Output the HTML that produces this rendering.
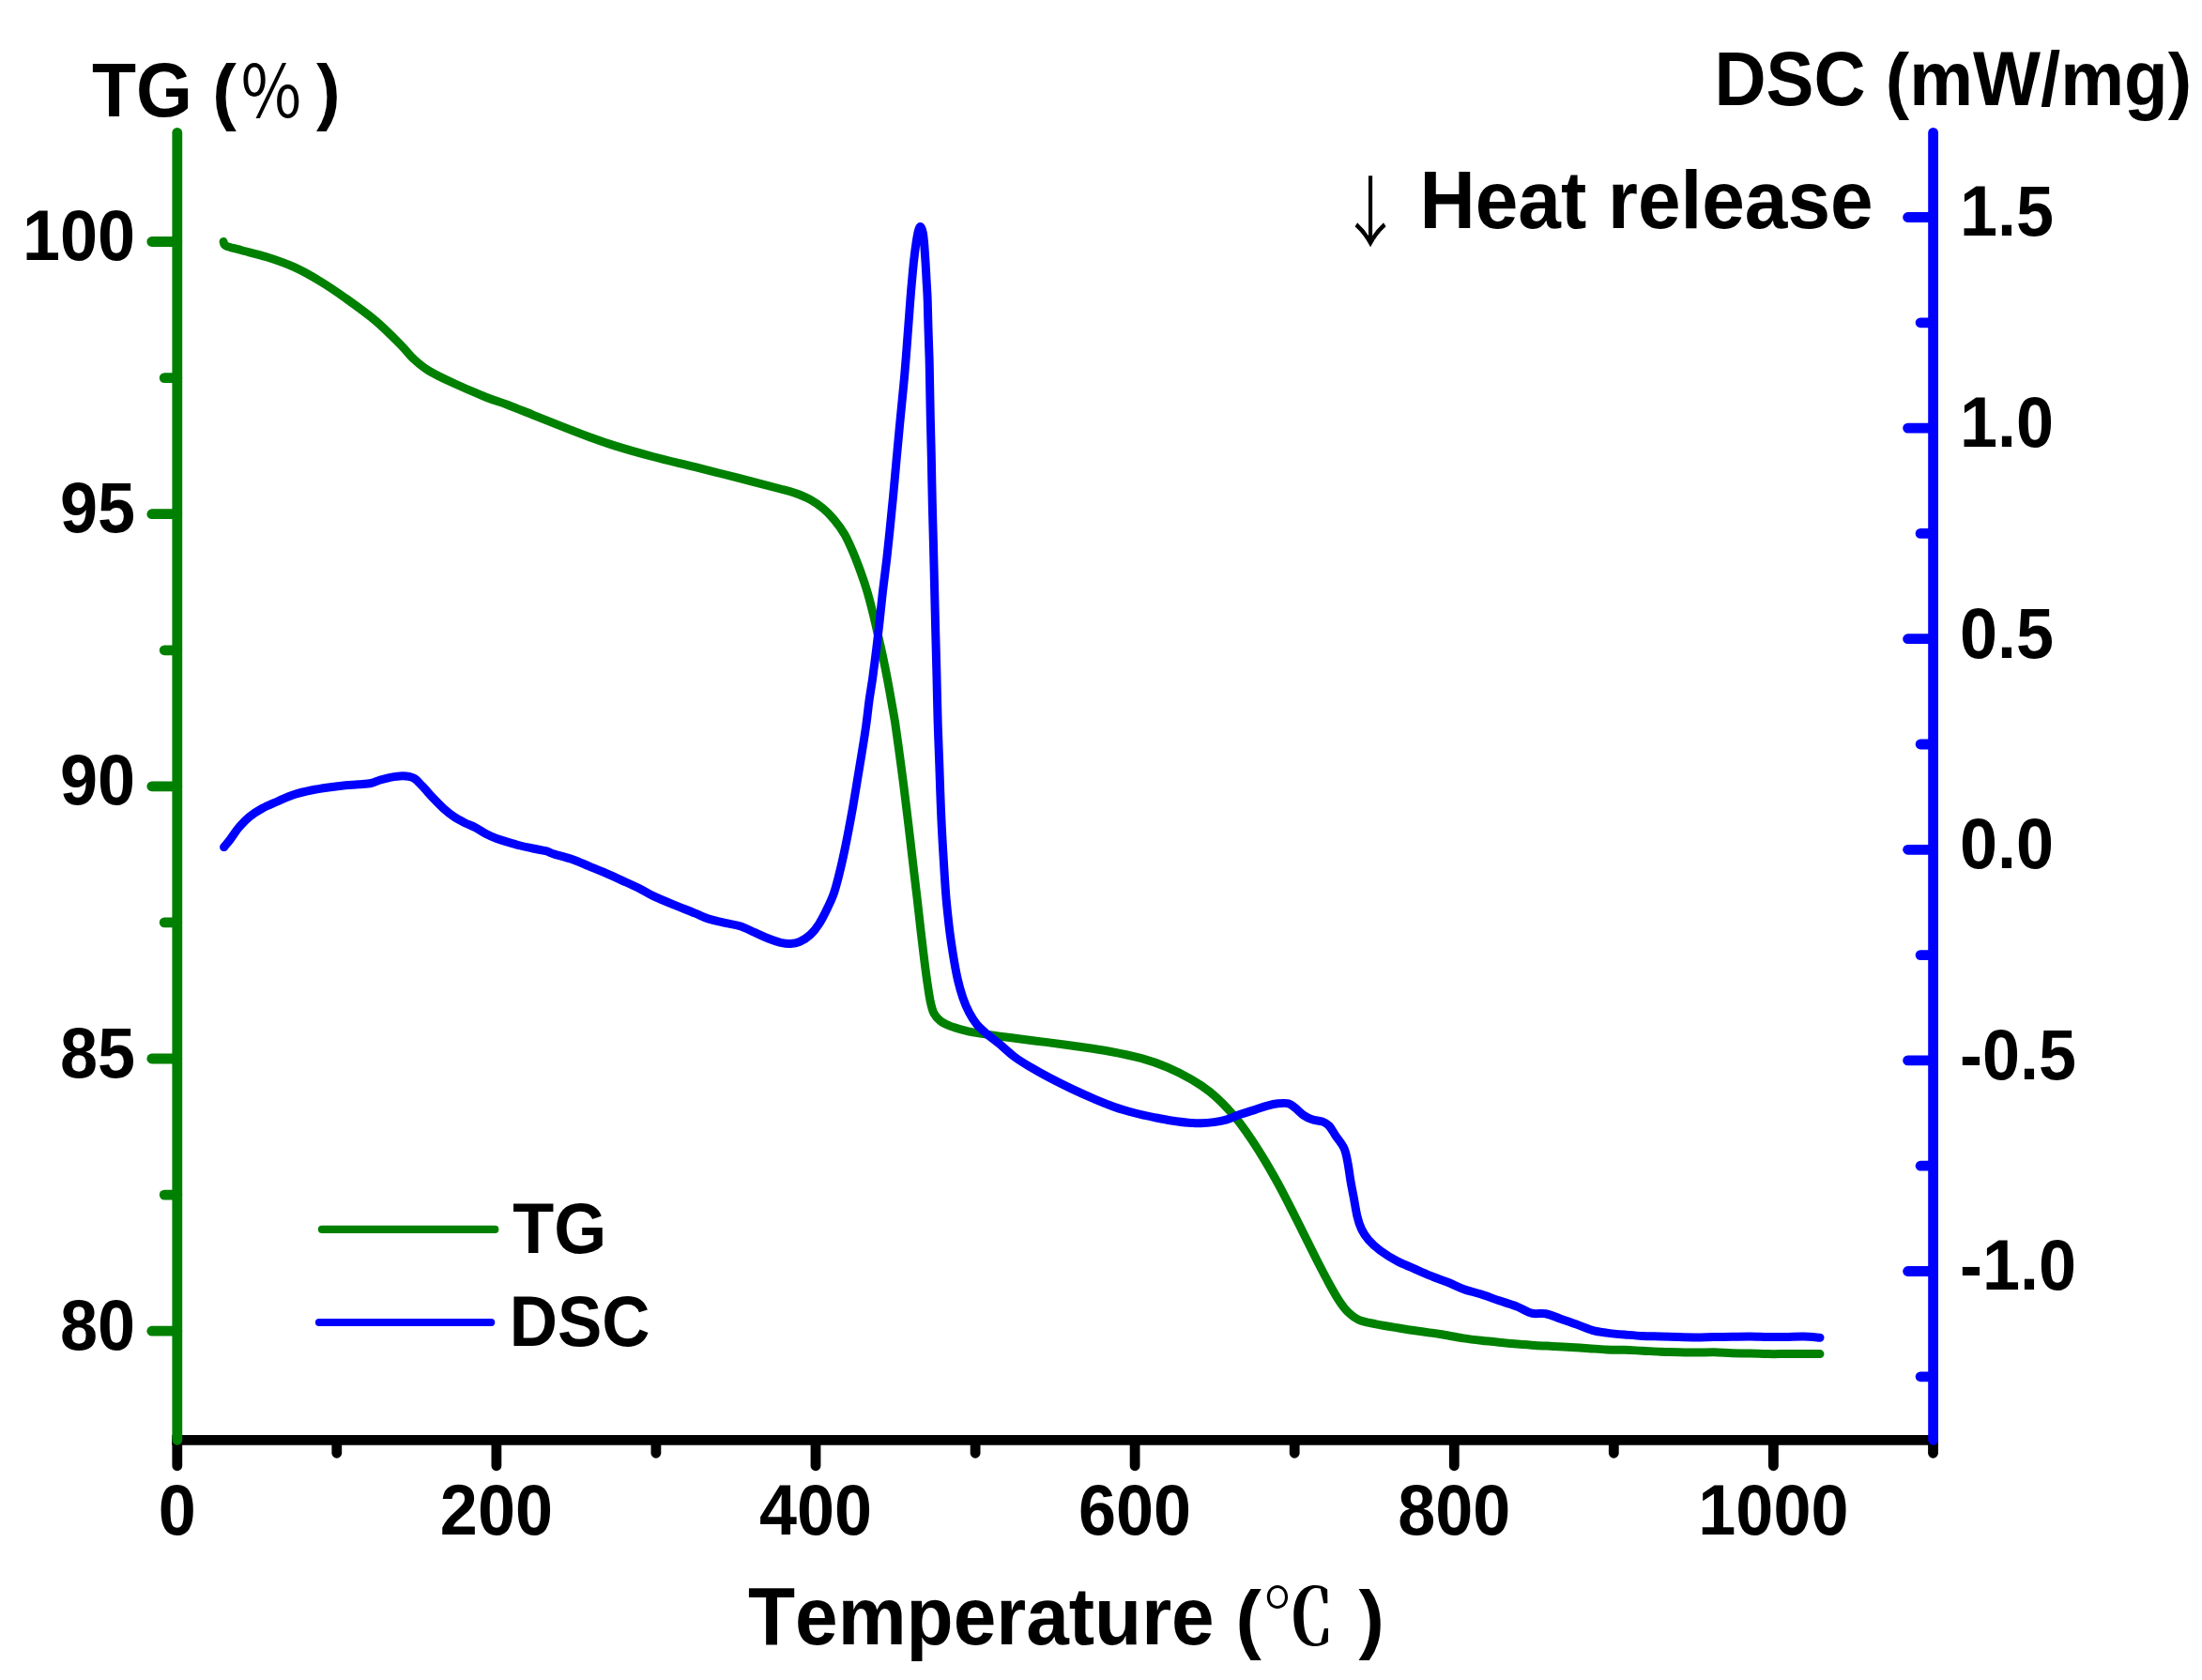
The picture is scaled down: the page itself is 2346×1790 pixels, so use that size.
<!DOCTYPE html>
<html lang="en"><head><meta charset="utf-8"><title>TG-DSC curves</title>
<style>
html,body{margin:0;padding:0;background:#fff;}
body{width:2346px;height:1790px;overflow:hidden;}
svg{display:block;}
text{font-family:"Liberation Sans","Noto Sans CJK SC",sans-serif;font-weight:bold;fill:#000;font-kerning:none;}
.tick{font-size:72px;}
.ytitle{font-size:77px;}
.xtitle{font-size:82px;}
.pct{font-family:"Noto Sans CJK SC",sans-serif;font-weight:400;}
.degc{font-family:"Noto Serif CJK SC",serif;font-weight:700;}
.arrow{font-family:"Noto Serif CJK SC",serif;font-weight:700;stroke:#000;stroke-width:1.3px;}
.g{stroke:#008000;fill:none;stroke-linecap:round;stroke-linejoin:round;}
.b{stroke:#0000ff;fill:none;stroke-linecap:round;stroke-linejoin:round;}
.k{stroke:#000;fill:none;stroke-linecap:round;stroke-linejoin:round;}
</style></head><body>
<svg width="2346" height="1790" viewBox="0 0 2346 1790">
<rect width="2346" height="1790" fill="#fff"/>
<g class="k" stroke-width="10.8">
<path d="M183.3 1534.3 H2065.0" stroke-linecap="butt"/>
<path d="M188.8 1534.3 V1561.8"/>
<path d="M358.8 1534.3 V1548.3"/>
<path d="M528.9 1534.3 V1561.8"/>
<path d="M698.9 1534.3 V1548.3"/>
<path d="M869.0 1534.3 V1561.8"/>
<path d="M1039.1 1534.3 V1548.3"/>
<path d="M1209.1 1534.3 V1561.8"/>
<path d="M1379.2 1534.3 V1548.3"/>
<path d="M1549.3 1534.3 V1561.8"/>
<path d="M1719.3 1534.3 V1548.3"/>
<path d="M1889.4 1534.3 V1561.8"/>
<path d="M2059.5 1534.3 V1548.3"/>
</g>
<g class="g" stroke-width="10.8">
<path d="M188.8 141.3 V1534.3"/>
<path d="M188.8 1418.2 H161.8"/>
<path d="M188.8 1273.1 H175.2"/>
<path d="M188.8 1128.0 H161.8"/>
<path d="M188.8 982.9 H175.2"/>
<path d="M188.8 837.8 H161.8"/>
<path d="M188.8 692.8 H175.2"/>
<path d="M188.8 547.7 H161.8"/>
<path d="M188.8 402.6 H175.2"/>
<path d="M188.8 257.5 H161.8"/>
</g>
<g class="b" stroke-width="10.8">
<path d="M2059.6 141.3 V1534.3"/>
<path d="M2059.6 1466.8 H2046.1"/>
<path d="M2059.6 1354.5 H2032.6"/>
<path d="M2059.6 1242.2 H2046.1"/>
<path d="M2059.6 1129.9 H2032.6"/>
<path d="M2059.6 1017.6 H2046.1"/>
<path d="M2059.6 905.3 H2032.6"/>
<path d="M2059.6 793.0 H2046.1"/>
<path d="M2059.6 680.7 H2032.6"/>
<path d="M2059.6 568.4 H2046.1"/>
<path d="M2059.6 456.1 H2032.6"/>
<path d="M2059.6 343.8 H2046.1"/>
<path d="M2059.6 231.5 H2032.6"/>
</g>
<path class="g" stroke-width="9" d="M238.1 257.5C238.6 258.2 237.8 260.5 240.9 262.0C244.0 263.5 249.6 264.5 256.8 266.5C264.0 268.5 274.6 270.8 284.0 273.8C293.4 276.8 304.0 280.4 313.5 284.7C323.0 289.0 331.7 294.0 340.8 299.5C349.9 305.0 358.2 310.6 368.0 317.6C377.8 324.6 389.9 333.2 399.8 341.5C409.7 349.8 420.3 360.8 427.1 367.6C433.9 374.4 435.8 377.9 440.7 382.4C445.6 386.9 449.4 390.4 456.6 394.8C463.8 399.2 473.6 403.8 483.8 408.5C494.0 413.2 508.4 419.4 517.9 423.2C527.4 427.0 532.3 428.0 540.6 431.2C548.9 434.4 558.3 438.3 567.8 442.1C577.3 445.9 587.5 450.0 597.4 453.9C607.2 457.8 617.4 461.8 626.9 465.2C636.4 468.6 642.7 471.1 654.1 474.6C665.5 478.2 681.0 482.6 695.4 486.5C709.8 490.4 725.7 493.9 740.8 497.7C755.9 501.5 771.1 505.3 786.2 509.2C801.4 513.1 821.5 518.3 831.7 521.0C841.9 523.7 842.2 523.7 847.5 525.6C852.8 527.5 858.5 529.7 863.4 532.4C868.3 535.1 872.9 538.4 877.1 541.9C881.3 545.4 884.6 548.8 888.4 553.3C892.2 557.8 896.4 563.3 899.8 569.2C903.2 575.1 906.1 581.9 908.9 588.5C911.7 595.1 914.3 602.1 916.8 608.9C919.2 615.7 921.5 622.1 923.6 629.3C925.8 636.5 927.8 644.4 929.7 652.0C931.6 659.6 933.2 666.8 935.0 674.8C936.8 682.8 938.9 691.8 940.6 699.7C942.3 707.6 943.7 714.5 945.2 722.4C946.7 730.3 948.3 739.3 949.7 747.4C951.1 755.5 952.3 761.5 953.8 771.0C955.2 780.5 956.9 792.9 958.4 804.1C959.9 815.3 961.3 825.6 962.9 838.1C964.5 850.6 966.3 865.8 967.9 879.0C969.5 892.2 970.9 904.7 972.4 917.6C973.9 930.5 975.5 943.7 977.0 956.2C978.5 968.7 979.8 981.1 981.1 992.5C982.4 1003.9 983.7 1014.8 984.9 1024.3C986.1 1033.8 987.2 1042.1 988.3 1049.3C989.4 1056.5 990.2 1062.4 991.3 1067.5C992.4 1072.6 993.3 1076.5 995.1 1079.9C996.9 1083.3 999.0 1085.6 1002.0 1087.9C1005.0 1090.2 1008.4 1091.8 1013.3 1093.6C1018.2 1095.4 1023.9 1097.2 1031.5 1098.8C1039.1 1100.4 1050.4 1102.0 1058.7 1103.3C1067.0 1104.5 1072.2 1105.1 1081.4 1106.3C1090.6 1107.5 1103.0 1109.0 1114.1 1110.4C1125.2 1111.9 1136.8 1113.4 1148.1 1115.0C1159.4 1116.6 1170.8 1118.1 1182.2 1120.2C1193.6 1122.3 1206.0 1124.9 1216.2 1127.7C1226.4 1130.5 1234.8 1133.5 1243.5 1137.2C1252.2 1140.9 1260.9 1145.4 1268.5 1149.7C1276.1 1154.0 1282.5 1158.2 1288.9 1163.3C1295.3 1168.4 1301.8 1174.8 1307.1 1180.3C1312.4 1185.8 1316.2 1190.3 1320.7 1196.2C1325.2 1202.1 1329.8 1208.7 1334.3 1215.5C1338.8 1222.3 1343.4 1229.5 1347.9 1237.1C1352.5 1244.7 1357.0 1252.7 1361.6 1261.0C1366.1 1269.3 1370.7 1278.2 1375.2 1287.1C1379.7 1296.0 1384.3 1305.2 1388.8 1314.3C1393.3 1323.4 1397.9 1332.7 1402.4 1341.6C1407.0 1350.5 1411.9 1360.1 1416.1 1367.7C1420.3 1375.3 1424.0 1381.9 1427.4 1387.0C1430.8 1392.1 1433.1 1395.1 1436.5 1398.3C1439.9 1401.5 1442.9 1404.2 1447.8 1406.3C1452.7 1408.4 1459.2 1409.4 1466.0 1410.8C1472.8 1412.2 1481.1 1413.5 1488.7 1414.7C1496.3 1416.0 1503.8 1417.2 1511.4 1418.3C1519.0 1419.4 1526.1 1420.2 1534.1 1421.5C1542.0 1422.8 1551.8 1424.8 1559.1 1425.9C1566.4 1427.0 1571.8 1427.6 1578.1 1428.3C1584.4 1429.0 1590.8 1429.6 1597.2 1430.2C1603.6 1430.8 1609.9 1431.5 1616.3 1432.1C1622.7 1432.6 1629.1 1433.1 1635.4 1433.5C1641.8 1433.9 1648.1 1434.1 1654.4 1434.4C1660.8 1434.7 1667.1 1435.0 1673.5 1435.4C1679.9 1435.8 1686.2 1436.3 1692.6 1436.7C1699.0 1437.1 1705.3 1437.6 1711.7 1437.9C1718.1 1438.2 1724.4 1438.1 1730.7 1438.3C1737.0 1438.5 1743.4 1438.9 1749.8 1439.2C1756.2 1439.5 1762.5 1440.0 1768.9 1440.2C1775.3 1440.5 1781.7 1440.6 1788.0 1440.7C1794.3 1440.8 1800.7 1441.1 1807.0 1441.1C1813.3 1441.1 1819.7 1440.6 1826.1 1440.7C1832.5 1440.8 1838.8 1441.5 1845.2 1441.7C1851.6 1441.9 1857.9 1441.9 1864.2 1442.1C1870.5 1442.2 1876.9 1442.5 1883.3 1442.6C1889.7 1442.7 1896.0 1442.6 1902.4 1442.6C1908.8 1442.6 1915.4 1442.6 1921.5 1442.6C1927.6 1442.6 1936.1 1442.6 1939.0 1442.6"/>
<path class="b" stroke-width="9" d="M238.6 902.6C239.7 901.2 242.8 897.7 245.4 894.2C248.1 890.7 251.1 885.7 254.5 881.7C257.9 877.7 261.6 873.7 265.8 870.3C270.0 866.9 274.6 864.0 279.5 861.3C284.4 858.6 289.7 856.5 295.4 854.0C301.1 851.5 307.4 848.5 313.5 846.5C319.6 844.5 325.6 843.2 331.7 842.0C337.8 840.8 343.8 839.9 349.9 839.0C355.9 838.1 362.7 837.2 368.0 836.7C373.3 836.2 377.1 836.2 381.7 835.8C386.2 835.4 391.5 835.2 395.3 834.5C399.1 833.8 401.0 832.3 404.4 831.3C407.8 830.3 411.5 829.1 415.7 828.3C419.9 827.5 425.1 826.6 429.3 826.7C433.5 826.8 437.3 827.2 440.7 829.0C444.1 830.8 446.4 833.9 449.8 837.4C453.2 840.9 457.3 845.9 461.1 849.9C464.9 853.9 468.7 857.9 472.5 861.3C476.3 864.7 480.0 867.7 483.8 870.3C487.6 872.9 491.4 874.8 495.2 876.7C499.0 878.6 502.7 879.7 506.5 881.7C510.3 883.7 514.1 886.5 517.9 888.5C521.7 890.5 525.4 892.1 529.2 893.5C533.0 894.9 536.4 895.9 540.6 897.1C544.8 898.4 549.7 899.9 554.2 901.0C558.7 902.1 563.2 903.0 567.8 904.0C572.3 905.0 577.7 905.7 581.5 906.7C585.3 907.7 586.1 908.7 590.6 910.1C595.1 911.5 602.7 913.2 608.7 915.3C614.8 917.4 620.9 920.1 626.9 922.6C632.9 925.1 639.0 927.5 645.0 930.1C651.0 932.7 657.1 935.5 663.2 938.3C669.3 941.1 676.0 944.1 681.4 946.8C686.8 949.5 689.3 951.5 695.4 954.4C701.5 957.3 710.5 961.0 718.1 964.1C725.7 967.2 734.8 970.7 740.8 973.2C746.8 975.7 749.1 977.2 754.4 978.9C759.7 980.6 766.9 982.1 772.6 983.4C778.3 984.7 783.2 985.1 788.5 986.8C793.8 988.5 799.5 991.5 804.4 993.7C809.3 995.9 813.5 998.0 818.0 999.8C822.5 1001.6 827.7 1003.3 831.7 1004.3C835.7 1005.2 838.5 1005.6 841.9 1005.5C845.3 1005.4 848.5 1005.0 852.1 1003.4C855.7 1001.8 860.0 999.0 863.4 995.9C866.8 992.8 869.5 989.3 872.5 984.6C875.5 979.9 879.0 973.0 881.6 967.5C884.2 962.0 886.3 957.8 888.4 951.7C890.5 945.7 892.2 938.8 894.1 931.2C896.0 923.6 898.1 914.2 899.8 906.2C901.5 898.2 902.8 891.4 904.3 883.5C905.8 875.6 907.4 867.3 908.9 858.6C910.4 849.9 911.9 840.4 913.4 831.3C914.9 822.2 916.3 813.9 917.9 804.1C919.5 794.3 921.5 782.0 922.8 772.5C924.1 763.0 924.8 755.8 925.9 747.4C927.0 739.0 928.4 731.9 929.7 722.4C931.0 712.9 932.5 700.8 933.8 690.6C935.0 680.4 936.1 671.3 937.2 661.1C938.3 650.9 939.4 639.9 940.6 629.3C941.8 618.7 943.3 608.1 944.5 597.5C945.7 586.9 946.7 577.1 947.9 565.8C949.1 554.4 950.3 541.9 951.5 529.4C952.7 516.9 953.9 503.3 955.0 490.8C956.1 478.3 957.3 465.9 958.4 454.5C959.5 443.1 960.7 431.3 961.5 422.7C962.3 414.1 962.8 409.7 963.4 403.0C964.0 396.3 964.5 390.0 965.1 382.6C965.7 375.2 966.3 366.7 966.9 358.8C967.5 350.9 968.1 342.9 968.7 335.0C969.3 327.1 969.9 318.5 970.5 311.2C971.1 303.9 971.7 297.6 972.3 291.0C972.9 284.4 973.6 277.5 974.3 271.9C974.9 266.3 975.6 261.8 976.2 257.6C976.9 253.4 977.5 249.6 978.2 246.9C978.9 244.2 979.8 241.3 980.6 241.5C981.5 241.7 982.6 244.8 983.3 248.1C984.0 251.4 984.3 256.1 984.8 261.2C985.2 266.3 985.6 272.6 986.0 279.0C986.4 285.4 986.8 292.9 987.1 299.3C987.5 305.7 987.9 311.2 988.1 317.1C988.4 323.1 988.4 328.1 988.6 335.0C988.8 341.9 989.0 350.9 989.3 358.8C989.5 366.7 989.9 375.2 990.1 382.6C990.3 390.0 990.3 392.5 990.5 403.0C990.7 413.5 991.0 430.8 991.3 445.4C991.6 460.0 992.1 475.7 992.4 490.8C992.7 505.9 992.9 521.1 993.3 536.2C993.6 551.4 994.1 566.6 994.5 581.7C994.9 596.9 995.2 612.0 995.6 627.1C996.0 642.2 996.3 657.4 996.7 672.5C997.1 687.6 997.5 701.3 997.9 717.9C998.3 734.5 998.7 755.8 999.2 772.0C999.7 788.2 1000.3 800.6 1000.8 815.4C1001.3 830.2 1001.8 845.7 1002.4 860.8C1003.0 875.9 1003.8 891.1 1004.7 906.2C1005.6 921.4 1006.6 938.5 1007.6 951.7C1008.6 965.0 1009.8 975.1 1011.0 985.7C1012.2 996.3 1013.6 1005.7 1015.1 1015.2C1016.6 1024.7 1018.3 1034.5 1020.1 1042.5C1021.9 1050.5 1023.7 1056.9 1025.8 1062.9C1027.9 1069.0 1030.1 1074.1 1032.6 1078.8C1035.1 1083.5 1037.4 1087.4 1040.6 1091.3C1043.8 1095.2 1047.8 1098.4 1051.9 1102.0C1056.1 1105.6 1060.6 1108.8 1065.5 1112.9C1070.4 1117.0 1076.0 1122.5 1081.4 1126.5C1086.9 1130.5 1092.0 1133.5 1098.2 1137.2C1104.4 1140.9 1111.4 1144.8 1118.6 1148.6C1125.8 1152.4 1133.7 1156.3 1141.3 1159.9C1148.9 1163.5 1156.4 1166.9 1164.0 1170.1C1171.6 1173.3 1179.1 1176.5 1186.7 1179.2C1194.3 1181.9 1202.2 1184.1 1209.4 1186.0C1216.6 1187.9 1223.5 1189.3 1229.9 1190.6C1236.3 1191.9 1242.0 1193.1 1248.0 1194.0C1254.0 1194.9 1260.9 1195.8 1266.2 1196.2C1271.5 1196.7 1275.3 1196.8 1279.8 1196.7C1284.3 1196.6 1288.9 1196.2 1293.4 1195.6C1298.0 1194.9 1302.5 1194.1 1307.1 1192.8C1311.6 1191.5 1315.8 1189.3 1320.7 1187.6C1325.6 1185.9 1331.7 1184.2 1336.6 1182.6C1341.5 1181.0 1346.0 1179.2 1350.2 1178.1C1354.4 1177.0 1357.8 1176.2 1361.6 1175.8C1365.4 1175.4 1369.9 1175.0 1372.9 1175.8C1375.9 1176.5 1377.1 1178.2 1379.7 1180.3C1382.3 1182.4 1385.8 1186.2 1388.8 1188.3C1391.8 1190.4 1394.5 1191.7 1397.9 1192.8C1401.3 1193.9 1406.2 1194.0 1409.2 1195.1C1412.2 1196.2 1413.8 1197.1 1416.1 1199.6C1418.4 1202.1 1420.2 1205.9 1422.9 1209.9C1425.6 1213.9 1429.8 1218.6 1432.0 1223.5C1434.2 1228.4 1434.9 1233.7 1436.0 1239.4C1437.1 1245.1 1437.8 1251.5 1438.8 1257.5C1439.8 1263.5 1441.0 1269.3 1442.2 1275.7C1443.4 1282.1 1444.6 1290.4 1446.0 1296.1C1447.4 1301.8 1448.6 1305.6 1450.6 1309.8C1452.6 1314.0 1454.8 1317.3 1458.1 1321.1C1461.4 1324.9 1465.5 1328.7 1470.6 1332.5C1475.7 1336.3 1482.7 1340.6 1488.7 1343.8C1494.8 1347.0 1500.9 1349.1 1506.9 1351.8C1513.0 1354.5 1519.0 1357.2 1525.0 1359.7C1531.0 1362.2 1537.5 1364.2 1543.2 1366.5C1548.9 1368.8 1553.3 1371.3 1559.1 1373.4C1564.9 1375.5 1571.8 1377.0 1578.1 1379.1C1584.4 1381.2 1590.8 1383.6 1597.2 1385.8C1603.6 1388.0 1610.6 1389.9 1616.3 1392.1C1622.0 1394.3 1626.5 1397.9 1631.6 1399.2C1636.7 1400.5 1641.7 1398.8 1646.8 1399.7C1651.9 1400.7 1656.4 1402.9 1662.1 1404.9C1667.8 1406.9 1675.4 1409.5 1681.1 1411.6C1686.8 1413.7 1691.3 1415.9 1696.4 1417.3C1701.5 1418.7 1706.0 1419.3 1711.7 1420.1C1717.4 1420.9 1724.4 1421.5 1730.7 1422.0C1737.0 1422.5 1743.4 1423.1 1749.8 1423.4C1756.2 1423.7 1762.5 1423.8 1768.9 1424.0C1775.3 1424.2 1781.7 1424.3 1788.0 1424.5C1794.3 1424.7 1800.7 1424.9 1807.0 1424.9C1813.3 1424.9 1819.7 1424.6 1826.1 1424.5C1832.5 1424.4 1838.8 1424.4 1845.2 1424.3C1851.6 1424.2 1857.9 1424.0 1864.2 1424.0C1870.5 1424.0 1876.9 1424.4 1883.3 1424.5C1889.7 1424.6 1896.0 1424.6 1902.4 1424.5C1908.8 1424.4 1915.4 1424.0 1921.5 1424.1C1927.6 1424.2 1936.1 1425.1 1939.0 1425.3"/>
<path class="g" stroke-width="8.2" d="M343 1309.9H527.3"/>
<path class="b" stroke-width="8.2" d="M340 1409H523.2"/>
<text class="tick" transform="translate(546.2 1334.8) scale(1.000 1.045)">TG</text>
<text class="tick" transform="translate(542.8 1433.9) scale(0.985 1.045)">DSC</text>
<text class="tick" text-anchor="end" transform="translate(144.0 277.1) scale(1.000 1.045)">100</text>
<text class="tick" text-anchor="end" transform="translate(144.0 567.3) scale(1.000 1.045)">95</text>
<text class="tick" text-anchor="end" transform="translate(144.0 857.4) scale(1.000 1.045)">90</text>
<text class="tick" text-anchor="end" transform="translate(144.0 1147.6) scale(1.000 1.045)">85</text>
<text class="tick" text-anchor="end" transform="translate(144.0 1437.8) scale(1.000 1.045)">80</text>
<text class="tick" transform="translate(2088.0 251.3) scale(1.000 1.045)">1.5</text>
<text class="tick" transform="translate(2088.0 475.9) scale(1.000 1.045)">1.0</text>
<text class="tick" transform="translate(2088.0 700.5) scale(1.000 1.045)">0.5</text>
<text class="tick" transform="translate(2088.0 925.1) scale(1.000 1.045)">0.0</text>
<text class="tick" transform="translate(2088.0 1149.7) scale(1.000 1.045)">-0.5</text>
<text class="tick" transform="translate(2088.0 1374.3) scale(1.000 1.045)">-1.0</text>
<text class="tick" text-anchor="middle" transform="translate(188.8 1635.0) scale(1.000 1.045)">0</text>
<text class="tick" text-anchor="middle" transform="translate(528.9 1635.0) scale(1.000 1.045)">200</text>
<text class="tick" text-anchor="middle" transform="translate(869.0 1635.0) scale(1.000 1.045)">400</text>
<text class="tick" text-anchor="middle" transform="translate(1209.1 1635.0) scale(1.000 1.045)">600</text>
<text class="tick" text-anchor="middle" transform="translate(1549.3 1635.0) scale(1.000 1.045)">800</text>
<text class="tick" text-anchor="middle" transform="translate(1889.4 1635.0) scale(1.000 1.045)">1000</text>
<text class="ytitle" transform="translate(98.0 124.0) scale(1.000 1.060)">TG</text>
<text class="ytitle" transform="translate(226.3 124.0) scale(1.000 1.000)">(</text>
<text class="ytitle pct" transform="translate(254.0 126.0) scale(0.905 1.000)">％</text>
<text class="ytitle" transform="translate(337.0 124.0) scale(1.000 1.000)">)</text>
<text class="ytitle" transform="translate(1826.5 111.8) scale(0.991 1.060)">DSC</text>
<text class="ytitle" transform="translate(2008.8 111.8) scale(0.991 1.000)">(</text>
<text class="ytitle" transform="translate(2034.2 111.8) scale(0.991 1.060)">mW/mg</text>
<text class="ytitle" transform="translate(2309.8 111.8) scale(0.991 1.000)">)</text>
<text class="xtitle" transform="translate(797.0 1752.0) scale(1.000 1.060)">Temperature</text>
<text class="xtitle" transform="translate(1316.5 1752.0) scale(1.000 1.000)">(</text>
<text class="xtitle degc" transform="translate(1345.0 1752.0) scale(0.930 1.000)">℃</text>
<text class="xtitle" transform="translate(1447.5 1752.0) scale(1.000 1.000)">)</text>
<text class="xtitle arrow" transform="translate(1427.2 255.0) scale(0.800 0.975)">↓</text>
<text class="xtitle" transform="translate(1512.5 242.8) scale(1.000 1.060)">Heat release</text>
</svg></body></html>
